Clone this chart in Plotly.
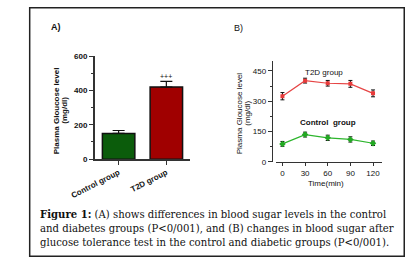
import plotly.graph_objects as go

W, H = 408, 270

# ---- data ----
groups = ["Control group", "T2D group"]
group_means = [150, 420]
group_err = [17, 33]
group_colors = ["#0b5c0b", "#a00000"]

times = [0, 30, 60, 90, 120]
t2d_vals = [325, 402, 389, 386, 339]
t2d_err = [18, 12, 14, 17, 17]
ctrl_vals = [89, 135, 119, 111, 92]
ctrl_err = [12, 12, 13, 13, 11]

caption_lines = [
    "<b>Figure 1:</b> (A) shows differences in blood sugar levels in the control",
    "and diabetes groups (P&lt;0/001), and (B) changes in blood sugar after",
    "glucose tolerance test in the control and diabetic groups (P&lt;0/001).",
]

def px(x):
    return x / W

def py(y):
    return (H - y) / H

SANS = "Liberation Sans, Arial, sans-serif"
SERIF = "DejaVu Serif, serif"

fig = go.Figure()

# Panel A bars
fig.add_trace(go.Bar(
    x=groups, y=group_means, width=0.68,
    marker=dict(color=group_colors, line=dict(color="#111111", width=1.5)),
    error_y=dict(type="data", symmetric=False, array=group_err,
                 arrayminus=[0, 0], color="#111111", thickness=1.2, width=6),
    xaxis="x", yaxis="y", showlegend=False,
))

# Panel B lines
fig.add_trace(go.Scatter(
    x=times, y=t2d_vals, mode="lines+markers",
    line=dict(color="#e64545", width=1.2),
    marker=dict(symbol="square", size=4, color="#e83a3a"),
    error_y=dict(type="data", array=t2d_err, color="#111111", thickness=1, width=2),
    xaxis="x2", yaxis="y2", showlegend=False,
))
fig.add_trace(go.Scatter(
    x=times, y=ctrl_vals, mode="lines+markers",
    line=dict(color="#2db52d", width=1.2),
    marker=dict(symbol="diamond", size=5, color="#22a822"),
    error_y=dict(type="data", array=ctrl_err, color="#111111", thickness=1, width=2),
    xaxis="x2", yaxis="y2", showlegend=False,
))

tickfont = dict(family=SANS, size=8, color="#111111", weight="bold")

fig.update_layout(
    width=W, height=H,
    margin=dict(l=0, r=0, t=0, b=0),
    paper_bgcolor="white", plot_bgcolor="white",
    xaxis=dict(
        domain=[px(74.3), px(176)], anchor="y",
        range=[-0.5, 1.5], showgrid=False, zeroline=False,
        showline=True, linecolor="#333333", linewidth=1.5,
        ticks="outside", ticklen=4, tickcolor="#333333", tickwidth=1.2,
        tickangle=-27, tickfont=tickfont,
    ),
    yaxis=dict(
        domain=[py(160.5), py(54)], anchor="x",
        range=[0, 600], dtick=200, showgrid=False, zeroline=False,
        showline=True, linecolor="#333333", linewidth=1.5,
        ticks="outside", ticklen=4, tickcolor="#333333", tickwidth=1.2,
        minor=dict(dtick=100, ticks="outside", ticklen=2, tickcolor="#333333"),
        tickfont=tickfont,
    ),
    xaxis2=dict(
        domain=[px(267), px(380)], anchor="y2",
        range=[-9, 131.5], tickvals=times, showgrid=False, zeroline=False,
        showline=True, linecolor="#333333", linewidth=1.3,
        ticks="outside", ticklen=3, tickcolor="#333333", tickwidth=1.2,
        tickfont=dict(family=SANS, size=8, color="#111111"),
    ),
    yaxis2=dict(
        domain=[py(163.3), py(58.8)], anchor="free", position=px(263),
        range=[0, 500], tickvals=[0, 150, 300, 450], showgrid=False, zeroline=False,
        showline=True, linecolor="#333333", linewidth=1.3,
        ticks="outside", ticklen=4, tickcolor="#333333", tickwidth=1.2,
        minor=dict(tickvals=[75, 225, 375], ticks="outside", ticklen=2, tickcolor="#333333"),
        tickfont=dict(family=SANS, size=8, color="#111111"),
    ),
    shapes=[dict(type="rect", xref="paper", yref="paper",
                 x0=px(5), x1=px(404), y0=py(261), y1=py(4),
                 line=dict(color="#222222", width=1.5))],
)

def note(text, x, y, size=8, angle=0, family=SANS, xanchor="center"):
    return dict(text=text, x=px(x), y=py(y), xref="paper", yref="paper",
                xanchor=xanchor, yanchor="middle", textangle=angle, showarrow=False,
                font=dict(family=family, size=size, color="#111111"))

ann = [
    note("<b>A)</b>", 26, 24, size=9, xanchor="left"),
    note("B)", 220, 25, size=9, xanchor="left"),
    note("<b>Plasma Gloucose level</b>", 33, 110, angle=-90),
    note("<b>(mg/dl)</b>", 42, 110, angle=-90),
    note("Plasma Gloucose level", 228, 113, angle=-90),
    note("(mg/dl)", 237, 113, angle=-90),
    note("Time(min)", 321, 185.5),
    note("T2D group", 318, 71),
    note("<b>Control  group</b>", 323, 123),
]
# Significance marker
ann.append(dict(text="+++", x=groups[1], y=group_means[1] + group_err[1],
                xref="x", yref="y", xanchor="center", yanchor="bottom", yshift=-1,
                showarrow=False, font=dict(family=SANS, size=7, color="#111111")))
# Caption
for i, line in enumerate(caption_lines):
    ann.append(note(line, 14, 218 + 14.5 * i, size=10.1, family=SERIF, xanchor="left"))

fig.update_layout(annotations=ann)
fig.write_html("out.html", config={"displayModeBar": False},
               post_script="document.body.style.margin='0';document.body.style.overflow='hidden';")
